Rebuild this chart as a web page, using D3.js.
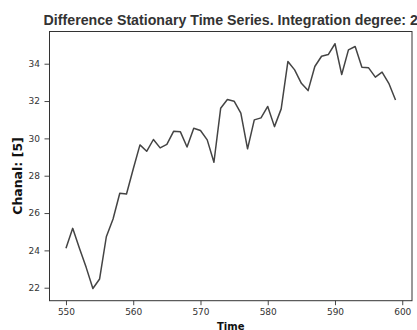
<!DOCTYPE html>
<html><head><meta charset="utf-8">
<script src="https://cdn.jsdelivr.net/npm/d3@7"></script>
<style>
html,body{margin:0;padding:0;background:#fff;overflow:hidden}
svg{display:block}
</style></head>
<body>
<script>
const startTime = 550;
const values = [24.11,25.18,24.12,23.09,21.96,22.47,24.73,25.68,27.06,27.02,
  28.36,29.65,29.31,29.94,29.49,29.68,30.38,30.36,29.54,30.54,
  30.42,29.92,28.72,31.61,32.08,31.99,31.35,29.44,30.99,31.10,
  31.71,30.63,31.58,34.12,33.67,32.95,32.56,33.85,34.40,34.49,
  35.07,33.42,34.74,34.92,33.81,33.78,33.28,33.55,32.95,32.06];
const xTicks = [550,560,570,580,590,600];
const yTicks = [22,24,26,28,30,32,34];
const titleText = "Difference Stationary Time Series. Integration degree: 2";
const xLabel = "Time";
const yLabel = "Chanal: [5]";

const data = values.map((v,i)=>({t:startTime+i, v}));
const W=417,H=330;
const m={left:49.5,right:5,top:31.5,bottom:29.3};
const svg=d3.select("body").append("svg").attr("width",W).attr("height",H);

const tExt=d3.extent(data,d=>d.t), vExt=d3.extent(data,d=>d.v);
const tPad=(tExt[1]-tExt[0])*0.05, vPad=(vExt[1]-vExt[0])*0.05;
const x=d3.scaleLinear().domain([tExt[0]-tPad,tExt[1]+tPad]).range([m.left,W-m.right]);
const y=d3.scaleLinear().domain([vExt[0]-vPad,vExt[1]+vPad]).range([H-m.bottom,m.top]);

const axisColor="#333";
const gx=svg.append("g").attr("transform",`translate(0,${H-m.bottom})`)
  .call(d3.axisBottom(x).tickValues(xTicks).tickFormat(d3.format("d")).tickSize(4.5).tickPadding(3));
const gy=svg.append("g").attr("transform",`translate(${m.left},0)`)
  .call(d3.axisLeft(y).tickValues(yTicks).tickFormat(d3.format("d")).tickSize(5).tickPadding(4.5));
[gx,gy].forEach(g=>{
  g.select(".domain").remove();
  g.selectAll("line").attr("stroke",axisColor).attr("stroke-width",0.9);
  g.selectAll("text").attr("fill","#333").style("font-family","DejaVu Sans, sans-serif").style("font-size","9px");
});

svg.append("rect").attr("x",m.left).attr("y",m.top)
  .attr("width",W-m.right-m.left).attr("height",H-m.bottom-m.top)
  .attr("fill","none").attr("stroke",axisColor).attr("stroke-width",1);

svg.append("path").datum(data)
  .attr("d",d3.line().x(d=>x(d.t)).y(d=>y(d.v)))
  .attr("fill","none").attr("stroke","#444").attr("stroke-width",1.5)
  .attr("stroke-linejoin","round");

svg.append("text").attr("x",(m.left+W-m.right)/2).attr("y",25)
  .attr("text-anchor","middle").attr("fill","#333")
  .style("font-family","Liberation Sans, Arial, sans-serif").style("font-weight","bold").style("font-size","14.2px")
  .text(titleText);

svg.append("text").attr("x",(m.left+W-m.right)/2).attr("y",329.5)
  .attr("text-anchor","middle").attr("fill","#111")
  .style("font-family","DejaVu Sans, sans-serif").style("font-weight","bold").style("font-size","10px")
  .text(xLabel);

svg.append("text").attr("transform",`translate(21.5,176) rotate(-90)`)
  .attr("text-anchor","middle").attr("fill","#111")
  .style("font-family","DejaVu Sans, sans-serif").style("font-weight","bold").style("font-size","12.5px")
  .text(yLabel);
</script>
</body></html>
